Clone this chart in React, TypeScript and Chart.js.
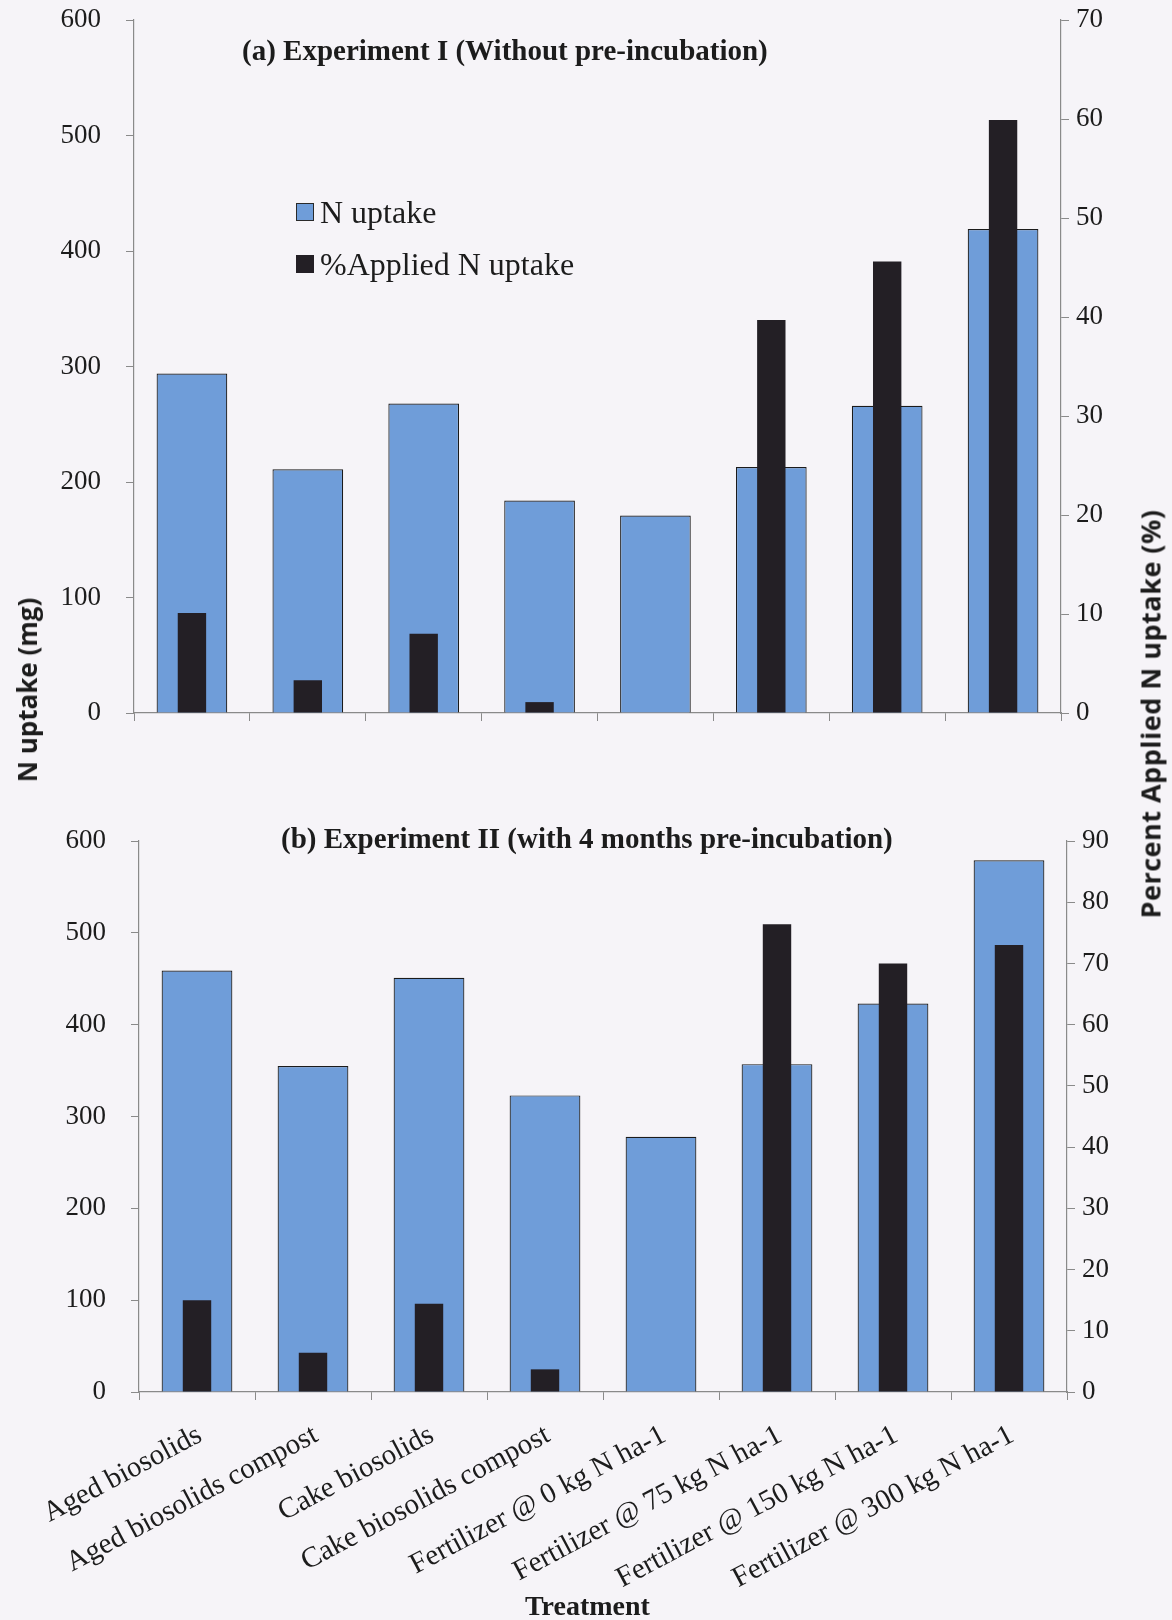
import React, { useEffect, useRef } from 'react';
import { Chart, registerables } from 'chart.js';

Chart.register(...registerables);

// ---------- data ----------
const categories = [
  'Aged biosolids',
  'Aged biosolids compost',
  'Cake biosolids',
  'Cake biosolids compost',
  'Fertilizer @ 0 kg N ha-1',
  'Fertilizer @ 75 kg N ha-1',
  'Fertilizer @ 150 kg N ha-1',
  'Fertilizer @ 300 kg N ha-1',
];

const uptakeExp1 = [294, 211, 268, 184, 171, 213, 266, 419];
const pctExp1 = [10.1, 3.3, 8.0, 1.1, null, 39.7, 45.6, 59.9];

const uptakeExp2 = [459, 355, 451, 323, 278, 357, 423, 579];
const pctExp2 = [15.0, 6.4, 14.4, 3.7, null, 76.4, 70.0, 73.0];

const leftTicksMax = 600;
const leftStep = 100;
const rightMaxExp1 = 70;
const rightMaxExp2 = 90;
const rightStep = 10;

const seriesNames = ['N uptake', '%Applied N uptake'];
const titleExp1 = '(a) Experiment I (Without pre-incubation)';
const titleExp2 = '(b) Experiment II (with 4 months pre-incubation)';

// ---------- styles ----------
const BLUE = '#6f9dd9';
const DARK = '#231f25';
const BG = '#f6f4f8';
const AXIS = '#8a8a8a';
const TEXT = '#1c1c1c';
const SERIF = "'Liberation Serif', 'Times New Roman', serif";
const SANS = "'Open Sans', 'Noto Sans', sans-serif";

type Geo = {
  height: number;
  plotTop: number;
  plotBottom: number;
  left: number;
  right: number;
};

function buildConfig(
  uptake: (number | null)[],
  pct: (number | null)[],
  rightMax: number,
  geo: Geo,
  showLabels: boolean
): any {
  const tickFont = { family: SERIF, size: 27 };
  return {
    type: 'bar',
    data: {
      labels: categories,
      datasets: [
        {
          label: seriesNames[0],
          data: uptake,
          yAxisID: 'y',
          backgroundColor: BLUE,
          borderColor: '#1b1b1b',
          borderWidth: 1.2,
          grouped: false,
          categoryPercentage: 1,
          barPercentage: 0.61,
          order: 2,
        },
        {
          label: seriesNames[1],
          data: pct,
          yAxisID: 'y1',
          backgroundColor: DARK,
          borderWidth: 0,
          grouped: false,
          categoryPercentage: 1,
          barPercentage: 0.245,
          order: 1,
        },
      ],
    },
    options: {
      responsive: false,
      maintainAspectRatio: false,
      animation: false,
      layout: { padding: { top: geo.plotTop, left: 0, right: 0, bottom: 0 } },
      plugins: {
        legend: { display: false },
        tooltip: { enabled: false },
        title: { display: false },
      },
      scales: {
        x: {
          offset: true,
          grid: {
            display: true,
            drawOnChartArea: false,
            offset: true,
            tickLength: 8,
            color: AXIS,
          },
          border: { display: true, color: AXIS, width: 1.2 },
          ticks: {
            display: showLabels,
            autoSkip: false,
            minRotation: 28,
            maxRotation: 28,
            padding: 18,
            labelOffset: 3,
            font: { family: SERIF, size: 29 },
            color: TEXT,
          },
          afterFit: (s: any) => {
            s.height = geo.height - geo.plotBottom;
            s.paddingLeft = 0;
            s.paddingRight = 0;
          },
        },
        y: {
          position: 'left',
          min: 0,
          max: leftTicksMax,
          ticks: { stepSize: leftStep, font: tickFont, color: TEXT, padding: 25 },
          grid: { drawOnChartArea: false, tickLength: 8, color: AXIS },
          border: { display: true, color: AXIS, width: 1.2 },
          afterFit: (s: any) => {
            s.width = geo.left;
            s.paddingTop = 0;
            s.paddingBottom = 0;
          },
        },
        y1: {
          position: 'right',
          min: 0,
          max: rightMax,
          ticks: { stepSize: rightStep, font: tickFont, color: TEXT, padding: 7 },
          grid: { drawOnChartArea: false, tickLength: 8, color: AXIS },
          border: { display: true, color: AXIS, width: 1.2 },
          afterFit: (s: any) => {
            s.width = 1172 - geo.right;
            s.paddingTop = 0;
            s.paddingBottom = 0;
          },
        },
      },
    },
  };
}

function ChartCanvas(props: {
  uptake: (number | null)[];
  pct: (number | null)[];
  rightMax: number;
  geo: Geo;
  showLabels: boolean;
}) {
  const ref = useRef<HTMLCanvasElement | null>(null);
  useEffect(() => {
    if (!ref.current) return;
    const chart = new Chart(
      ref.current,
      buildConfig(props.uptake, props.pct, props.rightMax, props.geo, props.showLabels)
    );
    return () => chart.destroy();
  }, []);
  return (
    <canvas
      ref={ref}
      width={1172}
      height={props.geo.height}
      style={{ display: 'block', width: 1172, height: props.geo.height }}
    />
  );
}

const abs = (extra: React.CSSProperties): React.CSSProperties => ({
  position: 'absolute',
  whiteSpace: 'nowrap',
  color: TEXT,
  ...extra,
});

export default function App() {
  const geoTop: Geo = { height: 780, plotTop: 20, plotBottom: 713, left: 134, right: 1061 };
  const geoBottom: Geo = { height: 840, plotTop: 61, plotBottom: 612, left: 139, right: 1067 };

  return (
    <div
      style={{
        position: 'absolute',
        left: 0,
        top: 0,
        width: 1172,
        height: 1620,
        background: BG,
        overflow: 'hidden',
      }}
    >
      <div style={{ position: 'absolute', left: 0, top: 0 }}>
        <ChartCanvas uptake={uptakeExp1} pct={pctExp1} rightMax={rightMaxExp1} geo={geoTop} showLabels={false} />
      </div>
      <div style={{ position: 'absolute', left: 0, top: 780 }}>
        <ChartCanvas uptake={uptakeExp2} pct={pctExp2} rightMax={rightMaxExp2} geo={geoBottom} showLabels={true} />
      </div>

      {/* panel titles */}
      <div style={abs({ left: 242, top: 36, font: `bold 29px ${SERIF}`, lineHeight: '29px' })}>{titleExp1}</div>
      <div style={abs({ left: 281, top: 824, font: `bold 29px ${SERIF}`, lineHeight: '29px' })}>{titleExp2}</div>

      {/* legend */}
      <div style={abs({ left: 296, top: 203, width: 18, height: 18, background: BLUE, border: '1px solid #2a2a2a', boxSizing: 'border-box' })} />
      <div style={abs({ left: 320, top: 196, font: `32px ${SERIF}`, lineHeight: '32px' })}>{seriesNames[0]}</div>
      <div style={abs({ left: 296, top: 255, width: 18, height: 18, background: DARK })} />
      <div style={abs({ left: 320, top: 248, font: `32px ${SERIF}`, lineHeight: '32px' })}>{seriesNames[1]}</div>

      {/* axis titles */}
      <div
        style={abs({
          left: 27,
          top: 690,
          transform: 'translate(-50%, -50%) rotate(-90deg)',
          font: `bold 26px ${SANS}`,
          lineHeight: '26px',
        })}
      >
        N uptake (mg)
      </div>
      <div
        style={abs({
          left: 1150,
          top: 714,
          transform: 'translate(-50%, -50%) rotate(-90deg)',
          font: `bold 27px ${SANS}`,
          lineHeight: '27px',
          letterSpacing: '0.5px',
        })}
      >
        Percent Applied N uptake (%)
      </div>
      <div style={abs({ left: 525, top: 1592, font: `bold 28px ${SERIF}`, lineHeight: '28px' })}>Treatment</div>
    </div>
  );
}
